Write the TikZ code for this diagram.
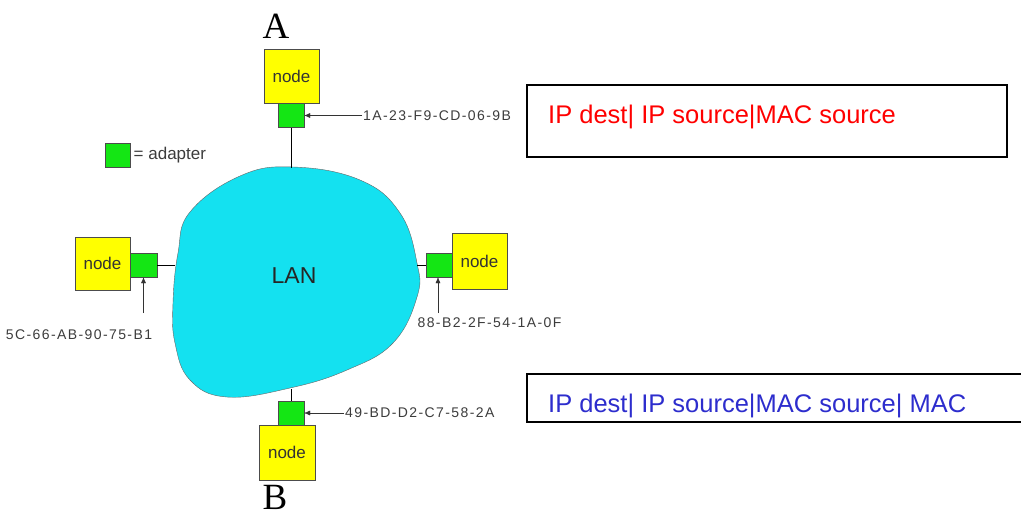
\documentclass[tikz,border=0pt]{standalone}
\usepackage{fontspec}
\setmainfont{Liberation Sans}
\newfontfamily\endfont{Liberation Serif}
\newfontfamily\macfont[LetterSpace=10]{Liberation Sans}
\usetikzlibrary{arrows.meta}
\definecolor{hostyellow}{RGB}{255,255,0}
\definecolor{adaptergreen}{RGB}{20,230,20}
\definecolor{lancyan}{RGB}{20,225,240}
\definecolor{labelgrey}{RGB}{60,60,60}
\definecolor{framered}{RGB}{255,0,0}
\definecolor{frameblue}{RGB}{45,45,205}

\begin{document}
\begin{tikzpicture}[x=1pt,y=-1pt,>={Latex[length=6pt,width=5pt]},
  host/.style={draw=black!70,fill=hostyellow,inner sep=0pt,minimum width=55pt,minimum height=54pt,
    text=black!80,font=\fontsize{17}{17}\selectfont},
  adapter/.style={draw=black!70,fill=adaptergreen,inner sep=0pt,minimum width=26pt,minimum height=24pt},
  mac/.style={inner sep=1pt,text=labelgrey,font=\macfont\fontsize{14}{14}\selectfont},
  header/.style={anchor=base west,inner sep=0pt,font=\fontsize{25.5}{25.5}\selectfont},
  endpoint/.style={inner sep=1pt,font=\endfont\fontsize{37}{37}\selectfont}]
\useasboundingbox (0,0) rectangle (1021,515);

\draw[draw=black!60,fill=lancyan] plot[smooth cycle,tension=0.7] coordinates
  {(293,167) (360,180) (400,213) (417,263) (417,297) (393,343) (347,370) (290,388)
   (227,397) (190,380) (175,343) (173,303) (178,253) (190,212) (240,176)};
\node[font=\fontsize{23}{23}\selectfont,text=black!85] (lan) at (294,276) {LAN};
\coordinate (lanN) at (291,168);
\coordinate (lanW) at (175,265);
\coordinate (lanE) at (417,265);
\coordinate (lanS) at (291,389);

\node[host] (hostA) at (291.5,76.5) {node};
\node[adapter] (adA) at (291,115.5) {};
\node[endpoint] (endA) at (276,26) {A};

\node[host,minimum height=53pt] (hostW) at (102.5,263.5) {node};
\node[adapter,minimum width=27pt] (adW) at (143.5,265) {};

\node[adapter] (adE) at (439,265) {};
\node[host,minimum height=56pt] (hostE) at (479.5,261) {node};

\node[adapter] (adS) at (291,413) {};
\node[host,minimum width=56pt,minimum height=55pt] (hostS) at (287,452.5) {node};
\node[endpoint] (endS) at (275,497) {B};

\draw (adA.south) -- (lanN);
\draw (adW.east) -- (lanW);
\draw (adE.west) -- (lanE);
\draw (adS.north) -- (lanS);

\node[mac,anchor=west] (macA) at (362,115.5) {1A-23-F9-CD-06-9B};
\node[mac] (macW) at (79,335) {5C-66-AB-90-75-B1};
\node[mac] (macE) at (489.5,323) {88-B2-2F-54-1A-0F};
\node[mac,anchor=west] (macS) at (344,413) {49-BD-D2-C7-58-2A};
\coordinate (tailW) at (143.5,313);
\coordinate (tailE) at (438,313);

\draw[->,black!80] (macA.west) -- (adA.east);
\draw[->,black!80] (tailW) -- (adW.south);
\draw[->,black!80] (tailE) -- (adE.south -| tailE);
\draw[->,black!80] (macS.west) -- (adS.east);

\node[adapter,minimum width=25pt] (key) at (117.5,155) {};
\node[right,text=labelgrey,font=\fontsize{17}{17}\selectfont] (keytext) at (key.east) {= adapter};

\draw[line width=1.2pt] (527,85) rectangle (1007,157);
\node[header,text=framered] (frameA) at (548,123) {IP dest| IP source|MAC source};
\draw[line width=1.2pt] (1025,374) -- (527,374) -- (527,422) -- (1025,422);
\node[header,text=frameblue] (frameS) at (548,412) {IP dest| IP source|MAC source| MAC};
\end{tikzpicture}
\end{document}
